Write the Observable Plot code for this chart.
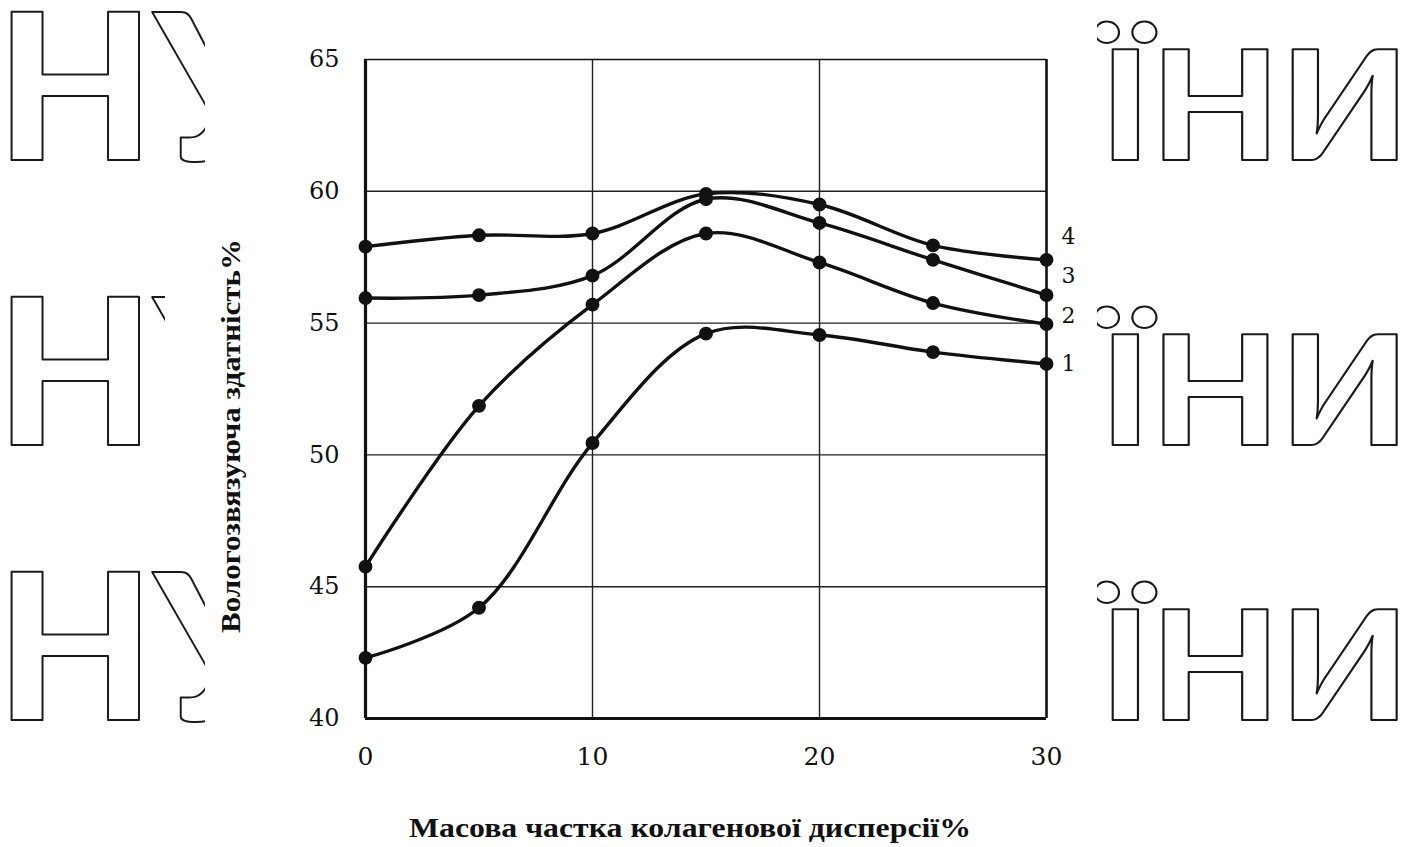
<!DOCTYPE html>
<html>
<head>
<meta charset="utf-8">
<script src="https://cdn.jsdelivr.net/npm/d3@7"></script>
<script src="https://cdn.jsdelivr.net/npm/@observablehq/plot@0.6"></script>
<style>
  html, body { margin: 0; padding: 0; background: #fff; }
  #page { position: relative; width: 1408px; height: 847px; overflow: hidden; background: #fff; }
  #wm, #chart { position: absolute; left: 0; top: 0; }
  #wm text { font-family: Lato, "Open Sans", sans-serif; font-weight: 900; fill: none; stroke: #1a1a1a; stroke-width: 2; stroke-linejoin: round; }
</style>
</head>
<body>
<div id="page">
  <svg id="wm" width="1408" height="847">
    <defs>
      <clipPath id="clipWide"><rect x="0" y="0" width="205" height="847"/></clipPath>
      <clipPath id="clipNarrow"><rect x="0" y="0" width="165" height="847"/></clipPath>
      <clipPath id="clipRight"><rect x="1097" y="0" width="311" height="847"/></clipPath>
    </defs>
    <text x="-4" y="160" font-size="205" clip-path="url(#clipWide)">НУ</text>
    <text x="-4" y="445" font-size="205" clip-path="url(#clipNarrow)">НУ</text>
    <text x="-4" y="720" font-size="205" clip-path="url(#clipWide)">НУ</text>
    <g clip-path="url(#clipRight)">
      <g transform="translate(1100 0) scale(1.1 1)">
        <text x="0" y="160" font-size="152">ЇНИ</text>
        <text x="0" y="445" font-size="152">ЇНИ</text>
        <text x="0" y="720" font-size="152">ЇНИ</text>
      </g>
    </g>
  </svg>
  <div id="chart"></div>
</div>
<script>
// Mass fraction of collagen dispersion, %
const massFraction = [0, 5, 10, 15, 20, 25, 30];
// Water-binding capacity, % (curves 1–4)
const curve1 = [42.3, 44.2, 50.45, 54.6, 54.55, 53.9, 53.45];
const curve2 = [45.76, 51.86, 55.7, 58.4, 57.3, 55.76, 54.96];
const curve3 = [55.95, 56.06, 56.8, 59.7, 58.8, 57.4, 56.06];
const curve4 = [57.9, 58.33, 58.4, 59.9, 59.5, 57.95, 57.4];
const curveNames = ["1", "2", "3", "4"];
const xTicks = [0, 10, 20, 30];
const yTicks = [40, 45, 50, 55, 60, 65];
const xGrid = [10, 20];
const yGrid = [45, 50, 55, 60];
const xTitle = "Масова частка колагенової дисперсії%";
const yTitle = "Вологозвязуюча здатність%";

const series = [curve1, curve2, curve3, curve4];
const rows = curveNames.flatMap((name, i) =>
  massFraction.map((x, j) => ({curve: name, x, y: series[i][j]}))
);
const ends = rows.filter(d => d.x === massFraction[massFraction.length - 1]);

// vertical nudges so the curve numbers don't collide at the right edge
const labelShift = {"4": -23, "3": -19, "2": -8, "1": 0};

const ink = "#111";
const serif = "'Liberation Serif', 'DejaVu Serif', 'Times New Roman', serif";
const wideSerif = "'DejaVu Serif', 'Liberation Serif', serif";

const chart = Plot.plot({
  width: 1408,
  height: 847,
  marginLeft: 365,
  marginRight: 362,
  marginTop: 59,
  marginBottom: 129,
  style: {fontFamily: serif, background: "transparent", color: ink, overflow: "visible"},
  x: {domain: [0, 30]},
  y: {domain: [40, 65]},
  marks: [
    Plot.gridX(xGrid, {stroke: "#222", strokeOpacity: 1, strokeWidth: 1.4}),
    Plot.gridY(yGrid, {stroke: "#222", strokeOpacity: 1, strokeWidth: 1.4}),
    Plot.ruleY([65], {stroke: ink, strokeWidth: 1.6}),
    Plot.ruleX([30], {stroke: ink, strokeWidth: 2.6}),
    Plot.ruleX([0], {stroke: ink, strokeWidth: 3.2}),
    Plot.ruleY([40], {stroke: ink, strokeWidth: 3.2}),
    Plot.axisX(xTicks, {tickSize: 0, tickPadding: 29, fontSize: 25, fontFamily: wideSerif, label: null, fill: ink}),
    Plot.axisY(yTicks, {tickSize: 0, tickPadding: 26, fontSize: 24, fontFamily: wideSerif, label: null, fill: ink}),
    Plot.line(rows, {x: "x", y: "y", z: "curve", stroke: ink, strokeWidth: 3.4, curve: "catmull-rom"}),
    Plot.dot(rows, {x: "x", y: "y", r: 6.2, fill: ink, stroke: ink}),
    ...curveNames.map(name =>
      Plot.text(ends.filter(d => d.curve === name), {
        x: "x", y: "y", text: "curve",
        dx: 22, dy: labelShift[name], textAnchor: "middle", lineAnchor: "middle",
        fontSize: 22, fontFamily: wideSerif, fill: ink
      })
    ),
    Plot.text([xTitle], {frameAnchor: "bottom", dx: -16, dy: 110, textAnchor: "middle", lineAnchor: "middle",
      fontSize: 28, fontWeight: "bold", fill: ink}),
    Plot.text([yTitle], {frameAnchor: "left", rotate: -90, dx: -134, dy: 47, textAnchor: "middle", lineAnchor: "middle",
      fontSize: 28, fontWeight: "bold", fill: ink})
  ]
});

// the axis titles are set in a slightly stretched serif
const titleWidths = new Map([[xTitle, 562], [yTitle, 394]]);
d3.select(chart).selectAll("text")
  .filter(function () { return titleWidths.has(this.textContent); })
  .attr("textLength", function () { return titleWidths.get(this.textContent); })
  .attr("lengthAdjust", "spacingAndGlyphs");

document.getElementById("chart").appendChild(chart);
</script>
</body>
</html>
